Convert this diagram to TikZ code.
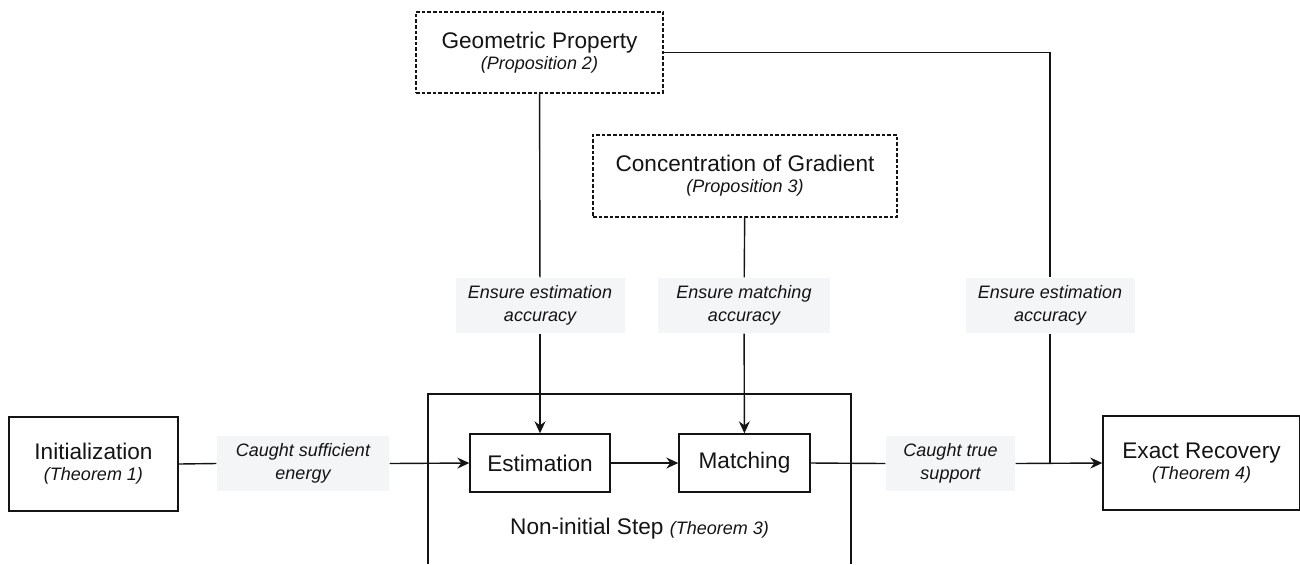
\documentclass[tikz,border=0pt]{standalone}
\usepackage{fontspec}
\setmainfont{Liberation Sans}
\usepackage{tikz}
\usetikzlibrary{arrows.meta}
\definecolor{labelgray}{RGB}{244,245,247}
\definecolor{inkgray}{RGB}{20,20,20}
\newcommand{\sub}[1]{\\[-1pt]{\fontsize{9}{11}\selectfont\itshape #1}}

\begin{document}
\begin{tikzpicture}[x=0.5pt, y=-0.5pt, line width=0.7pt, draw=inkgray,
  >={Stealth[length=6pt, width=5.5pt, inset=2pt]},
  box/.style={draw, rectangle, align=center, inner sep=0pt, text=inkgray,
    font=\fontsize{11.3}{11.5}\selectfont},
  dashbox/.style={box, dash pattern=on 1.8pt off 1pt},
  tag/.style={fill=labelgray, rectangle, align=center, inner sep=0pt, text=inkgray,
    font=\fontsize{9}{11.5}\selectfont\itshape, minimum height=27.5pt}]
\useasboundingbox (0,0) rectangle (1300,564);
%%%%% Outer step frame (open at the bottom) %%%%%
\draw (428,564) -- (428,394) -- (851,394) -- (851,564);
\node[text=inkgray, font=\fontsize{11.3}{13}\selectfont] (steplbl) at (639.5,529)
  {Non-initial Step {\fontsize{9}{11}\selectfont\itshape (Theorem 3)}};
%%%%% Boxes %%%%%
\node[box, minimum width=84.5pt, minimum height=47pt] (init) at (93.5,464)
  {Initialization\sub{(Theorem 1)}};
\node[box, minimum width=70pt, minimum height=29pt] (est) at (540,463) {Estimation};
\node[box, minimum width=65.5pt, minimum height=29pt] (mat) at (744.5,463) {Matching};
\node[box, minimum width=98.5pt, minimum height=47pt] (exact) at (1201.5,463)
  {Exact Recovery\sub{(Theorem 4)}};
\node[dashbox, minimum width=123.5pt, minimum height=40.5pt] (geo) at (539.5,52.5)
  {Geometric Property\sub{(Proposition 2)}};
\node[dashbox, minimum width=152pt, minimum height=41pt] (conc) at (745,176)
  {Concentration of Gradient\sub{(Proposition 3)}};
%%%%% Labels %%%%%
\node[tag, minimum width=84.5pt] (ensest) at (540,305.5) {Ensure estimation\\accuracy};
\node[tag, minimum width=86pt] (ensmat) at (744,305.5) {Ensure matching\\accuracy};
\node[tag, minimum width=84.5pt] (ensrec) at (1050,305.5) {Ensure estimation\\accuracy};
\node[tag, minimum width=86pt] (energy) at (303,463.5) {Caught sufficient\\energy};
\node[tag, minimum width=64.5pt] (support) at (950.5,463.5) {Caught true\\support};
\coordinate (join) at (ensrec |- exact.west);
%%%%% Connectors %%%%%
\draw (init.east) -- (energy.west);
\draw[->] (energy.east) -- (est.west);
\draw[->] (est) -- (mat);
\draw (mat.east) -- (support.west);
\draw[->] (support.east) -- (exact.west);
\draw (geo) -- (ensest);
\draw[->] (ensest) -- (est);
\draw (conc) -- (ensmat);
\draw[->] (ensmat) -- (mat);
\draw (geo.east) -| (ensrec.north);
\draw (ensrec.south) -- (join);
\end{tikzpicture}
\end{document}
